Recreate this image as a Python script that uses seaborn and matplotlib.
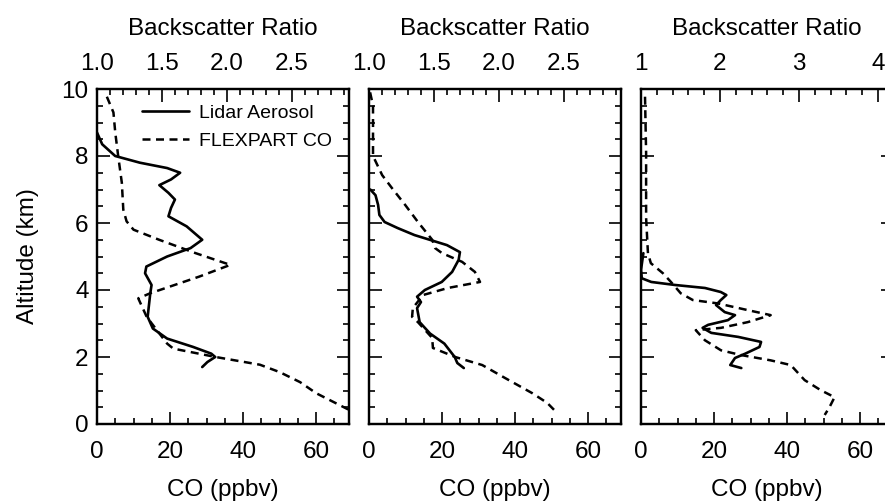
import matplotlib
matplotlib.use("Agg")
import matplotlib.pyplot as plt
from matplotlib.lines import Line2D
from matplotlib.ticker import MultipleLocator
import seaborn as sns

# --- data (altitude in km) ---
# panel 1
lidar1_alt = [8.7, 8.35, 8.0, 7.8, 7.64, 7.5, 7.3, 7.13, 6.9, 6.7, 6.45, 6.2, 5.9, 5.5, 5.25,
              5.0, 4.7, 4.5, 4.15, 3.9, 3.2, 2.85, 2.55, 2.3, 2.1, 2.0, 1.85, 1.7]
lidar1_bsr = [1.0, 1.04, 1.14, 1.33, 1.54, 1.64, 1.57, 1.48, 1.55, 1.60, 1.57, 1.55, 1.69, 1.81, 1.72,
              1.54, 1.38, 1.37, 1.42, 1.41, 1.39, 1.43, 1.54, 1.74, 1.88, 1.91, 1.85, 1.81]
flex1_alt = [9.77, 9.3, 8.7, 8.0, 7.2, 6.4, 6.05, 5.8, 5.5, 5.1, 4.75, 4.4, 3.9, 3.75, 3.2,
             2.8, 2.4, 2.25, 2.0, 1.77, 1.55, 1.25, 0.92, 0.45, 0.35]
flex1_co = [2.7, 4.5, 5.0, 5.8, 6.8, 7.2, 8.1, 10.0, 17.0, 27.0, 36.5, 28.0, 14.5, 11.3, 13.6,
            16.4, 19.2, 20.9, 32.5, 44.6, 50.0, 55.6, 60.0, 68.5, 71.0]

# panel 2
lidar2_alt = [7.0, 6.83, 6.54, 6.24, 6.03, 5.85, 5.64, 5.52, 5.34, 5.13, 4.9, 4.54, 4.24, 4.0,
              3.8, 3.64, 3.46, 3.04, 2.7, 2.4, 2.2, 2.0, 1.82, 1.67]
lidar2_bsr = [1.01, 1.05, 1.07, 1.08, 1.12, 1.22, 1.35, 1.45, 1.60, 1.70, 1.69, 1.64, 1.56, 1.43,
              1.37, 1.40, 1.37, 1.39, 1.47, 1.58, 1.62, 1.66, 1.68, 1.73]
flex2_alt = [9.9, 9.5, 8.6, 8.0, 7.43, 7.04, 6.54, 6.03, 5.5, 5.25, 5.1, 4.84, 4.54, 4.24, 4.06,
             3.85, 3.46, 3.2, 3.04, 2.57, 2.27, 2.0, 1.76, 1.37, 0.92, 0.63, 0.33]
flex2_co = [0.3, 1.1, 1.1, 1.1, 3.6, 6.3, 9.9, 13.4, 17.3, 18.1, 20.0, 25.5, 29.0, 30.4, 21.6,
            14.8, 12.0, 11.8, 13.4, 17.3, 17.5, 23.6, 31.0, 37.3, 44.7, 48.8, 51.5]

# panel 3
lidar3_alt = [5.1, 4.6, 4.35, 4.24, 4.15, 4.06, 3.94, 3.85, 3.7, 3.55, 3.34, 3.25, 3.1, 2.96,
              2.87, 2.72, 2.6, 2.45, 2.3, 2.1, 1.97, 1.76, 1.67]
lidar3_bsr = [1.03, 1.0, 1.01, 1.13, 1.43, 1.81, 2.01, 2.08, 2.01, 1.95, 2.06, 2.19, 2.10, 1.85,
              1.78, 1.89, 2.23, 2.52, 2.50, 2.32, 2.19, 2.13, 2.27]
flex3_alt = [9.77, 8.1, 6.15, 5.1, 4.8, 4.5, 4.24, 3.9, 3.7, 3.6, 3.4, 3.25, 3.04, 2.87, 2.8,
             2.5, 2.2, 2.06, 1.9, 1.76, 1.31, 1.01, 0.8, 0.5, 0.27]
flex3_co = [1.1, 1.4, 1.4, 1.9, 2.7, 6.0, 8.2, 10.9, 14.2, 21.0, 29.2, 35.5, 29.2, 21.9, 15.0,
            17.5, 21.9, 27.3, 35.5, 41.0, 44.8, 49.2, 53.0, 51.6, 50.3]

panels = [
    (lidar1_alt, lidar1_bsr, flex1_alt, flex1_co, 2.94, 0.5, 0.1, "{:.1f}"),
    (lidar2_alt, lidar2_bsr, flex2_alt, flex2_co, 2.94, 0.5, 0.1, "{:.1f}"),
    (lidar3_alt, lidar3_bsr, flex3_alt, flex3_co, 4.19, 1.0, 0.2, "{:.0f}"),
]

sns.set_style("ticks")
plt.rcParams["font.family"] = ["Liberation Sans", "DejaVu Sans"]
plt.rcParams["font.size"] = 17.5
plt.rcParams["text.color"] = "black"
plt.rcParams["axes.labelcolor"] = "black"

fig = plt.figure(figsize=(8.85, 5.04), dpi=100)
lefts = [97 / 885, 369 / 885, 641 / 885]
width = 252 / 885
bottom = 80 / 504
height = 335 / 504

tick_kw = dict(direction="in", width=1.2, colors="black")
dash = (0, (3.2, 2.2))

for i, (l_alt, l_bsr, f_alt, f_co, bsr_max, bsr_major, bsr_minor, fmt) in enumerate(panels):
    ax = fig.add_axes([lefts[i], bottom, width, height])
    ax_top = ax.twiny()

    sns.lineplot(x=f_co, y=f_alt, ax=ax, sort=False, estimator=None,
                 color="black", lw=1.8, linestyle=dash)
    sns.lineplot(x=l_bsr, y=l_alt, ax=ax_top, sort=False, estimator=None,
                 color="black", lw=1.9)

    ax.set_xlim(0, 69)
    ax.set_ylim(0, 10)
    ax_top.set_xlim(1, bsr_max)

    ax.xaxis.set_major_locator(MultipleLocator(20))
    ax.xaxis.set_minor_locator(MultipleLocator(5))
    ax.yaxis.set_major_locator(MultipleLocator(2))
    ax.yaxis.set_minor_locator(MultipleLocator(0.5))
    ax_top.xaxis.set_major_locator(MultipleLocator(bsr_major))
    ax_top.xaxis.set_minor_locator(MultipleLocator(bsr_minor))
    ax_top.xaxis.set_major_formatter(plt.FuncFormatter(lambda v, p, f=fmt: f.format(v)))

    ax.tick_params(axis="x", which="both", bottom=True, top=False, pad=12, **tick_kw)
    ax.tick_params(axis="y", which="both", left=True, right=True, pad=6, **tick_kw)
    ax.tick_params(which="major", length=9)
    ax.tick_params(which="minor", length=4.5)
    ax_top.tick_params(axis="x", which="both", top=True, bottom=False, pad=10, **tick_kw)
    ax_top.tick_params(which="major", length=9)
    ax_top.tick_params(which="minor", length=4.5)
    if i > 0:
        ax.tick_params(axis="y", labelleft=False)

    for a in (ax, ax_top):
        for s in a.spines.values():
            s.set_visible(True)
            s.set_linewidth(1.6)
            s.set_color("black")

    ax.set_xlabel("CO (ppbv)", labelpad=12, color="black")
    ax_top.set_xlabel("Backscatter Ratio", labelpad=13, color="black")
    ax.set_ylabel("Altitude (km)" if i == 0 else "", labelpad=16, color="black")

    if i == 0:
        handles = [Line2D([], [], color="black", lw=1.9),
                   Line2D([], [], color="black", lw=1.8, linestyle=dash)]
        leg = ax_top.legend(handles, ["Lidar Aerosol", "FLEXPART CO"], loc="upper left",
                            bbox_to_anchor=(0.18, 0.955), frameon=False, fontsize=14,
                            borderpad=0, borderaxespad=0, handlelength=2.4,
                            handletextpad=0.5, labelspacing=0.55)
        for t in leg.get_texts():
            t.set_color("black")

fig.savefig("out.png", dpi=100)
